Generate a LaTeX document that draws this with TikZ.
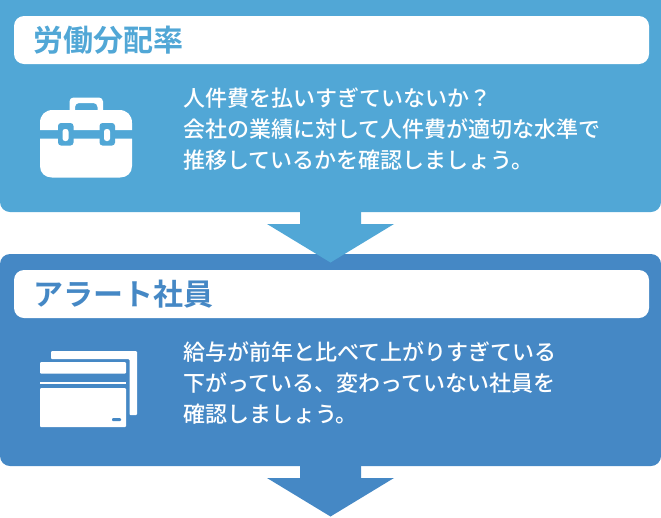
\documentclass[tikz,border=0pt]{standalone}
\usepackage{fontspec}
\setmainfont{Noto Sans CJK JP}[BoldFont={Noto Sans CJK JP Bold}]
\newfontfamily\jpm{Noto Sans CJK JP Medium}
\definecolor{lightb}{HTML}{51A7D6}
\definecolor{darkb}{HTML}{4588C5}
\tikzset{
  x=1pt,y=-1pt,
  bar/.style={fill=white,rounded corners=10pt},
  ttl/.style={anchor=base west,inner sep=0pt,font=\fontsize{30}{30}\selectfont\bfseries},
  body/.style={anchor=base west,inner sep=0pt,text=white,font=\jpm\fontsize{22}{31}\selectfont,align=left},
  ico/.style={fill=white}
}
\begin{document}
\begin{tikzpicture}
\useasboundingbox (0,0) rectangle (661,517);
% panel 1
\fill[lightb,rounded corners=10pt] (0,-15) rectangle (661,212);
% panel 2
\fill[darkb,rounded corners=10pt] (0,254) rectangle (661,466);
\fill[lightb] (300,205) -- (361,205) -- (361,224) -- (394,224) -- (330.5,262.5) -- (267,224) -- (300,224) -- cycle;
\fill[bar] (14,16) rectangle (649,64);
\node[ttl,text=lightb] (t1) at (33.5,51.5) {労働分配率};
\node[body] (b1) at (183,168.5) {人件費を払いすぎていないか？\\会社の業績に対して人件費が適切な水準で\\推移しているかを確認しましょう。};
% briefcase
\fill[ico,rounded corners=4pt,even odd rule] (69.5,114) -- (69.5,97.5) -- (103,97.5) -- (103,114) -- cycle (75,114) -- (75,103) -- (97.5,103) -- (97.5,114) -- cycle;
\fill[ico] (40,130) -- (40,123) .. controls (40,115) and (45,110) .. (53,110) -- (119,110) .. controls (127,110) and (132,115) .. (132,123) -- (132,130) -- cycle;
\fill[ico] (40,138.5) -- (40,166) .. controls (40,173) and (45,177.5) .. (52,177.5) -- (120,177.5) .. controls (127,177.5) and (132,173) .. (132,166) -- (132,138.5) -- cycle;
\fill[lightb,rounded corners=3pt] (58,123) rectangle (73.5,145.5);
\fill[lightb,rounded corners=3pt] (99.5,123) rectangle (115,145.5);
\fill[ico,rounded corners=2.5pt] (62.5,129) rectangle (68.5,141);
\fill[ico,rounded corners=2.5pt] (104,129) rectangle (110,141);
\fill[darkb] (300,460) -- (361,460) -- (361,478) -- (394,478) -- (330.5,516.5) -- (267,478) -- (300,478) -- cycle;
\fill[bar] (14,270) rectangle (649,318);
\node[ttl,text=darkb] (t2) at (33.5,305.5) {アラート社員};
\node[body] (b2) at (183,422.5) {給与が前年と比べて上がりすぎている\\下がっている、変わっていない社員を\\確認しましょう。};
% cards
\fill[ico,rounded corners=1pt] (51,351) -- (137,351) -- (137,415) -- (129.5,415) -- (129.5,359) -- (51,359) -- cycle;
\fill[ico,rounded corners=1pt] (40,362) rectangle (126,373.5);
\fill[ico] (40,382) rectangle (126,384);
\fill[ico,rounded corners=1pt] (40,388) rectangle (126,427);
\fill[darkb,rounded corners=1pt] (112,418) rectangle (121,421);
\end{tikzpicture}
\end{document}
